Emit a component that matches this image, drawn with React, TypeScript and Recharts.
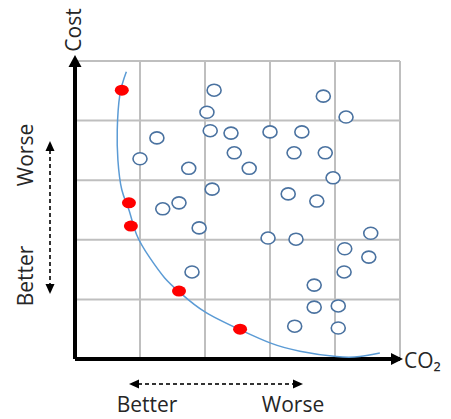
import { ScatterChart, Scatter, XAxis, YAxis, ReferenceLine } from 'recharts'

// data space: one grid cell = 1 unit on each axis (0..5)
const GRID_TICKS = [0, 1, 2, 3, 4, 5]

const bestPoints = [
  { x: 0.72, y: 4.51 },
  { x: 0.83, y: 2.62 },
  { x: 0.86, y: 2.23 },
  { x: 1.6, y: 1.14 },
  { x: 2.54, y: 0.5 },
]

const otherPoints = [
  { x: 2.14, y: 4.51 },
  { x: 2.03, y: 4.14 },
  { x: 2.08, y: 3.83 },
  { x: 2.4, y: 3.79 },
  { x: 1.26, y: 3.71 },
  { x: 1.0, y: 3.36 },
  { x: 1.75, y: 3.2 },
  { x: 2.11, y: 2.85 },
  { x: 1.35, y: 2.52 },
  { x: 1.6, y: 2.62 },
  { x: 2.45, y: 3.46 },
  { x: 3.82, y: 4.41 },
  { x: 4.17, y: 4.06 },
  { x: 3.0, y: 3.81 },
  { x: 3.49, y: 3.81 },
  { x: 3.37, y: 3.46 },
  { x: 3.85, y: 3.46 },
  { x: 2.68, y: 3.2 },
  { x: 3.97, y: 3.04 },
  { x: 3.28, y: 2.77 },
  { x: 3.72, y: 2.65 },
  { x: 1.91, y: 2.2 },
  { x: 1.8, y: 1.46 },
  { x: 2.97, y: 2.03 },
  { x: 3.4, y: 2.01 },
  { x: 4.55, y: 2.11 },
  { x: 4.15, y: 1.85 },
  { x: 4.52, y: 1.71 },
  { x: 4.14, y: 1.46 },
  { x: 3.68, y: 1.24 },
  { x: 3.68, y: 0.87 },
  { x: 4.05, y: 0.89 },
  { x: 3.38, y: 0.55 },
  { x: 4.05, y: 0.52 },
]

const frontCurve = [
  { x: 0.79, y: 4.82 },
  { x: 0.69, y: 4.43 },
  { x: 0.65, y: 3.84 },
  { x: 0.66, y: 3.34 },
  { x: 0.72, y: 2.84 },
  { x: 0.83, y: 2.5 },
  { x: 0.95, y: 2.08 },
  { x: 1.15, y: 1.7 },
  { x: 1.38, y: 1.36 },
  { x: 1.62, y: 1.11 },
  { x: 2.0, y: 0.79 },
  { x: 2.54, y: 0.49 },
  { x: 3.0, y: 0.27 },
  { x: 3.46, y: 0.13 },
  { x: 4.02, y: 0.04 },
  { x: 4.38, y: 0.04 },
  { x: 4.69, y: 0.1 },
]

const FONT = '"Open Sans", "Noto Sans", sans-serif'
const TEXT = '#262626'
const GRID = '#bfbfbf'

const OpenDot = (p: any) => (
  <ellipse cx={p.cx} cy={p.cy} rx={7} ry={6} fill="#fff" stroke="#4a72a0" strokeWidth={1.6} />
)
const RedDot = (p: any) => <ellipse cx={p.cx} cy={p.cy} rx={7} ry={5.5} fill="#ff0000" />
const NoDot = () => <g />

export default function App() {
  return (
    <div style={{ position: 'absolute', left: 0, top: 0, width: 451, height: 419, background: '#fff' }}>
      <ScatterChart width={451} height={419} margin={{ top: 61, right: 51, bottom: 60, left: 75 }}>
        <XAxis type="number" dataKey="x" domain={[0, 5]} ticks={GRID_TICKS} hide />
        <YAxis type="number" dataKey="y" domain={[0, 5]} ticks={GRID_TICKS} hide />
        {GRID_TICKS.map((t) => (
          <ReferenceLine key={'gx' + t} x={t} stroke={GRID} strokeWidth={2} />
        ))}
        {GRID_TICKS.map((t) => (
          <ReferenceLine key={'gy' + t} y={t} stroke={GRID} strokeWidth={2} />
        ))}
        <ReferenceLine x={0} stroke="#000" strokeWidth={4} />
        <ReferenceLine y={0} stroke="#000" strokeWidth={4} />
        <Scatter
          data={frontCurve}
          shape={NoDot}
          line={{ stroke: '#5b9bd5', strokeWidth: 1.5 }}
          lineJointType="natural"
          isAnimationActive={false}
        />
        <Scatter data={otherPoints} shape={OpenDot} isAnimationActive={false} />
        <Scatter data={bestPoints} shape={RedDot} isAnimationActive={false} />
      </ScatterChart>

      {/* arrows and labels */}
      <svg width={451} height={419} style={{ position: 'absolute', left: 0, top: 0, pointerEvents: 'none' }}>
        <polygon points="75,55 68.5,67 81.5,67" fill="#000" />
        <polygon points="403,359 391,353 391,365" fill="#000" />

        <line x1={50} y1={150} x2={50} y2={286} stroke="#333" strokeWidth={2} strokeDasharray="4 3" />
        <polygon points="50,141 45.5,151 54.5,151" fill="#000" />
        <polygon points="50,294 45.5,284 54.5,284" fill="#000" />

        <line x1={138} y1={384} x2={294} y2={384} stroke="#333" strokeWidth={2} strokeDasharray="4 3" />
        <polygon points="129,384 139,379.5 139,388.5" fill="#000" />
        <polygon points="303,384 293,379.5 293,388.5" fill="#000" />

        <g fontFamily={FONT} fill={TEXT} fontSize={21}>
          <text x={73} y={30} transform="rotate(-90 73 30)" textAnchor="middle" dominantBaseline="central">
            Cost
          </text>
          <text x={25} y={155} transform="rotate(-90 25 155)" textAnchor="middle" dominantBaseline="central">
            Worse
          </text>
          <text x={25} y={276} transform="rotate(-90 25 276)" textAnchor="middle" dominantBaseline="central">
            Better
          </text>
          <text x={404} y={360} dominantBaseline="central">
            CO₂
          </text>
          <text x={147} y={404} textAnchor="middle" dominantBaseline="central">
            Better
          </text>
          <text x={293} y={404} textAnchor="middle" dominantBaseline="central">
            Worse
          </text>
        </g>
      </svg>
    </div>
  )
}
